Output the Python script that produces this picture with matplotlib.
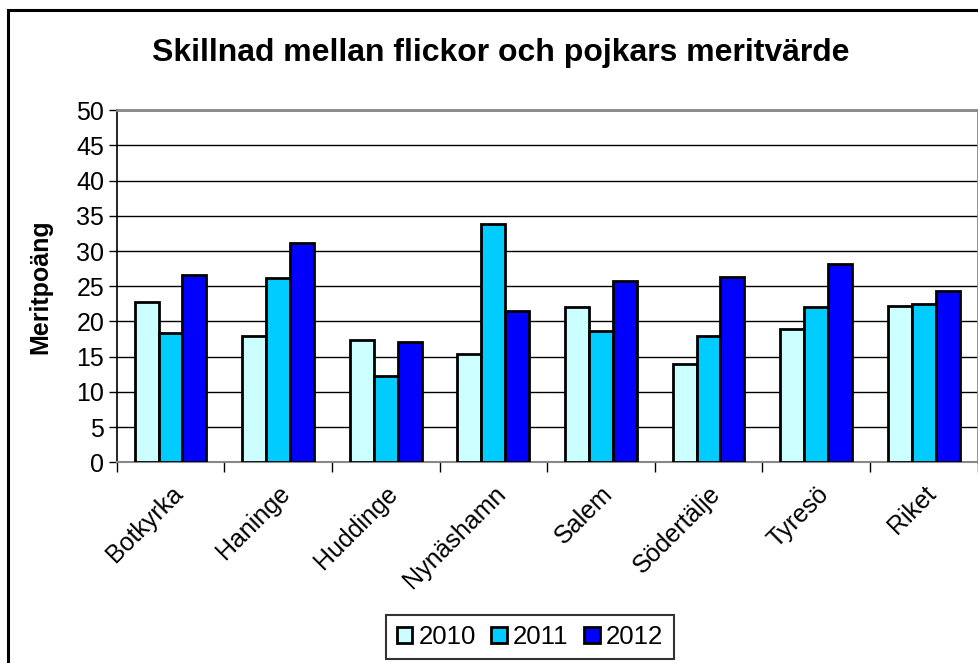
import numpy as np
import matplotlib
matplotlib.use("Agg")
import matplotlib.pyplot as plt
from matplotlib.patches import Rectangle

plt.rcParams["font.family"] = ["Liberation Sans", "DejaVu Sans"]

categories = ["Botkyrka", "Haninge", "Huddinge", "Nynäshamn", "Salem",
              "Södertälje", "Tyresö", "Riket"]
years = ["2010", "2011", "2012"]
v2010 = [22.7, 17.9, 17.4, 15.4, 22.0, 14.0, 19.0, 22.2]
v2011 = [18.3, 26.2, 12.2, 33.9, 18.7, 18.0, 22.0, 22.5]
v2012 = [26.6, 31.1, 17.1, 21.5, 25.7, 26.3, 28.1, 24.3]
colors = ["#ccffff", "#00ccff", "#0000ff"]

fig = plt.figure(figsize=(9.79, 6.63), dpi=100)
# outer chart border (only top and left visible in the crop)
fig.patches.append(Rectangle((8 / 979, -0.1), 1.2, (663 - 10) / 663 + 0.1,
                             transform=fig.transFigure, fill=False,
                             edgecolor="black", linewidth=2.2))

ax = fig.add_axes([116.7 / 979, 1 - 462.3 / 663, (977.5 - 116.7) / 979,
                   (462.3 - 110.3) / 663])

x = np.arange(len(categories))
w = 0.223
for i, vals in enumerate([v2010, v2011, v2012]):
    ax.bar(x + (i - 1) * w, vals, width=w, color=colors[i], edgecolor="black",
           linewidth=2, label=years[i], zorder=3)

ax.set_xlim(-0.5, len(categories) - 0.5)
ax.set_ylim(0, 50)
ax.set_yticks(range(0, 51, 5))
ax.tick_params(axis="y", labelsize=18, length=6, width=1, pad=3)
ax.yaxis.grid(True, color="black", linewidth=1, zorder=0)
ax.set_axisbelow(True)

# category boundary ticks
ax.set_xticks(np.arange(-0.5, len(categories), 1.0))
ax.set_xticklabels([])
ax.set_xticks(x, minor=True)
ax.set_xticklabels(categories, minor=True, rotation=45, ha="right",
                   rotation_mode="anchor", fontsize=18)
ax.tick_params(axis="x", which="major", length=7, width=1)
ax.tick_params(axis="x", which="minor", length=0, pad=14)

for side in ["top", "right"]:
    ax.spines[side].set_color("#888888")
    ax.spines[side].set_linewidth(2)
ax.spines["left"].set_linewidth(1.2)
ax.spines["bottom"].set_color("#888888")
ax.spines["bottom"].set_linewidth(1.5)

ax.set_ylabel("Meritpoäng", fontsize=18, fontweight="bold", labelpad=17)
fig.text(0.511, 1 - 53 / 663, "Skillnad mellan flickor och pojkars meritvärde",
         ha="center", va="center", fontsize=23, fontweight="bold")

leg = fig.legend(loc="center", bbox_to_anchor=(530 / 979, 1 - 637 / 663),
                 ncol=3, fontsize=18.5, frameon=True, fancybox=False,
                 handlelength=0.6, handleheight=0.6, handletextpad=0.25,
                 columnspacing=0.6, borderpad=0.4, borderaxespad=0)
leg.get_frame().set_edgecolor("black")
leg.get_frame().set_linewidth(1.5)

fig.savefig("out.png", dpi=100)
